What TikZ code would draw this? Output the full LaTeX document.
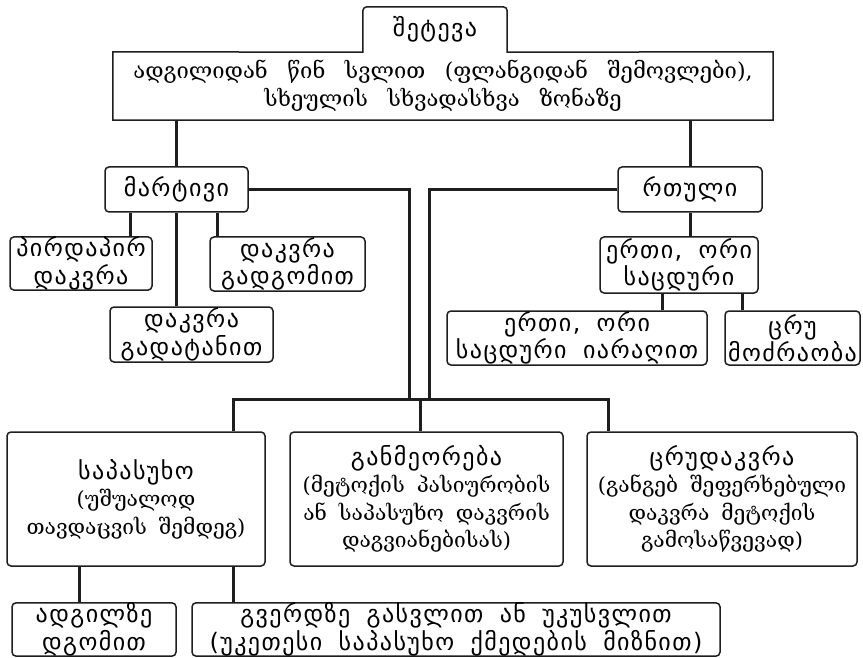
\documentclass[tikz,border=0pt]{standalone}
\usepackage{fontspec}
\setmainfont{DejaVu Serif}[WordSpace=1.8]
\newfontfamily\widefont{DejaVu Serif}[WordSpace=2.8]
\newfontfamily\capsfont{DejaVu Sans}[LetterSpace=6, WordSpace=1.8]
\definecolor{inkblack}{HTML}{1E1E1E}
\newcommand\boxhead[1]{{\capsfont\fontsize{24}{24.5}\selectfont #1}}

\begin{document}
\begin{tikzpicture}[x=1pt,y=-1pt,
  box/.style={draw=inkblack, line width=1.5pt, rounded corners=4pt, fill=white,
    align=center, inner sep=0pt, font=\fontsize{21}{27.5}\selectfont},
  link/.style={draw=inkblack, line width=3pt}]
  \useasboundingbox[fill=white] (0,0) rectangle (863,658);

  % top: attack with its tab
  \node[minimum width=144, minimum height=45] (tab) at (435,29.5) {\boxhead{შეტევა}};
  \node[align=center, minimum width=660, minimum height=68, inner sep=0pt,
    font=\widefont\fontsize{22}{28}\selectfont] (desc) at (443,86)
    {ადგილიდან წინ სვლით (ფლანგიდან შემოვლები),\\ სხეულის სხვადასხვა ზონაზე};
  \draw[inkblack, line width=1.5pt] (desc.south west) -- (desc.north west)
    -- (tab.south west) [rounded corners=4pt] -- (tab.north west) -- (tab.north east)
    [sharp corners] -- (tab.south east) -- (desc.north east) -- (desc.south east) -- cycle;

  % second level
  \node[box, minimum width=143, minimum height=45] (simple) at (176.5,189.5) {\boxhead{მარტივი}};
  \node[box, minimum width=144, minimum height=45] (complex) at (690,189.5) {\boxhead{რთული}};

  % simple attacks
  \node[box, minimum width=142, minimum height=53] (direct) at (81,263.5) {\boxhead{პირდაპირ}\\ \boxhead{დაკვრა}};
  \node[box, minimum width=155, minimum height=54] (sidehit) at (287.5,264) {\boxhead{დაკვრა}\\ \boxhead{გადგომით}};
  \node[box, minimum width=163, minimum height=55] (transfer) at (191.5,334.5) {\boxhead{დაკვრა}\\ \boxhead{გადატანით}};

  % compound attacks
  \node[box, minimum width=158, minimum height=56] (feint) at (679,265) {\boxhead{ერთი, ორი}\\ \boxhead{საცდური}};
  \node[box, minimum width=260, minimum height=54] (feintarm) at (577,338) {\boxhead{ერთი, ორი}\\ \boxhead{საცდური იარაღით}};
  \node[box, minimum width=135, minimum height=54] (falsemove) at (792.5,338) {\boxhead{ცრუ}\\ \boxhead{მოძრაობა}};

  % bottom row
  \node[box, minimum width=258, minimum height=134] (riposte) at (136,499)
    {\boxhead{საპასუხო}\\ (უშუალოდ\\ თავდაცვის შემდეგ)};
  \node[box, minimum width=273, minimum height=134] (repeat) at (426.5,499)
    {\boxhead{განმეორება}\\ (მეტოქის პასიურობის\\ ან საპასუხო დაკვრის\\ დაგვიანებისას)};
  \node[box, minimum width=270, minimum height=134] (falsehit) at (722,499)
    {\boxhead{ცრუდაკვრა}\\ (განგებ შეფერხებული\\ დაკვრა მეტოქის\\ გამოსაწვევად)};

  % riposte variants
  \node[box, minimum width=164, minimum height=51] (standing) at (94,629.5) {\boxhead{ადგილზე}\\ \boxhead{დგომით}};
  \node[box, minimum width=528, minimum height=51] (moving) at (456,629.5)
    {\boxhead{გვერდზე გასვლით ან უკუსვლით}\\ \boxhead{(უკეთესი საპასუხო ქმედების მიზნით)}};

  % bus joints
  \coordinate (busl) at (409,399);
  \coordinate (busr) at (429,399);

  % links
  \draw[link] (simple.north) -- (simple.north |- desc.south);
  \draw[link] (complex.north) -- (complex.north |- desc.south);
  \draw[link] ([xshift=49pt]direct.north) -- ([xshift=49pt]direct.north |- simple.south);
  \draw[link] (simple.south) -- (simple.south |- transfer.north);
  \draw[link] ([xshift=-70.5pt]sidehit.north) -- ([xshift=-70.5pt]sidehit.north |- simple.south);
  \draw[link] (simple.east) -| (busl);
  \draw[link] (complex.west) -| (busr);
  \draw[link] ([xshift=97pt]riposte.north) |- ([xshift=-114pt]falsehit.north |- busl)
    -- ([xshift=-114pt]falsehit.north);
  \draw[link] ([xshift=-6.5pt]repeat.north) -- ([xshift=-6.5pt]repeat.north |- busl);
  \draw[link] (complex.south) -- (complex.south |- feint.north);
  \draw[link] ([xshift=85pt]feintarm.north) -- ([xshift=85pt]feintarm.north |- feint.south);
  \draw[link] ([xshift=-50.5pt]falsemove.north) -- ([xshift=-50.5pt]falsemove.north |- feint.south);
  \draw[link] ([xshift=-15pt]standing.north) -- ([xshift=-15pt]standing.north |- riposte.south);
  \draw[link] ([xshift=-223pt]moving.north) -- ([xshift=-223pt]moving.north |- riposte.south);
\end{tikzpicture}
\end{document}
